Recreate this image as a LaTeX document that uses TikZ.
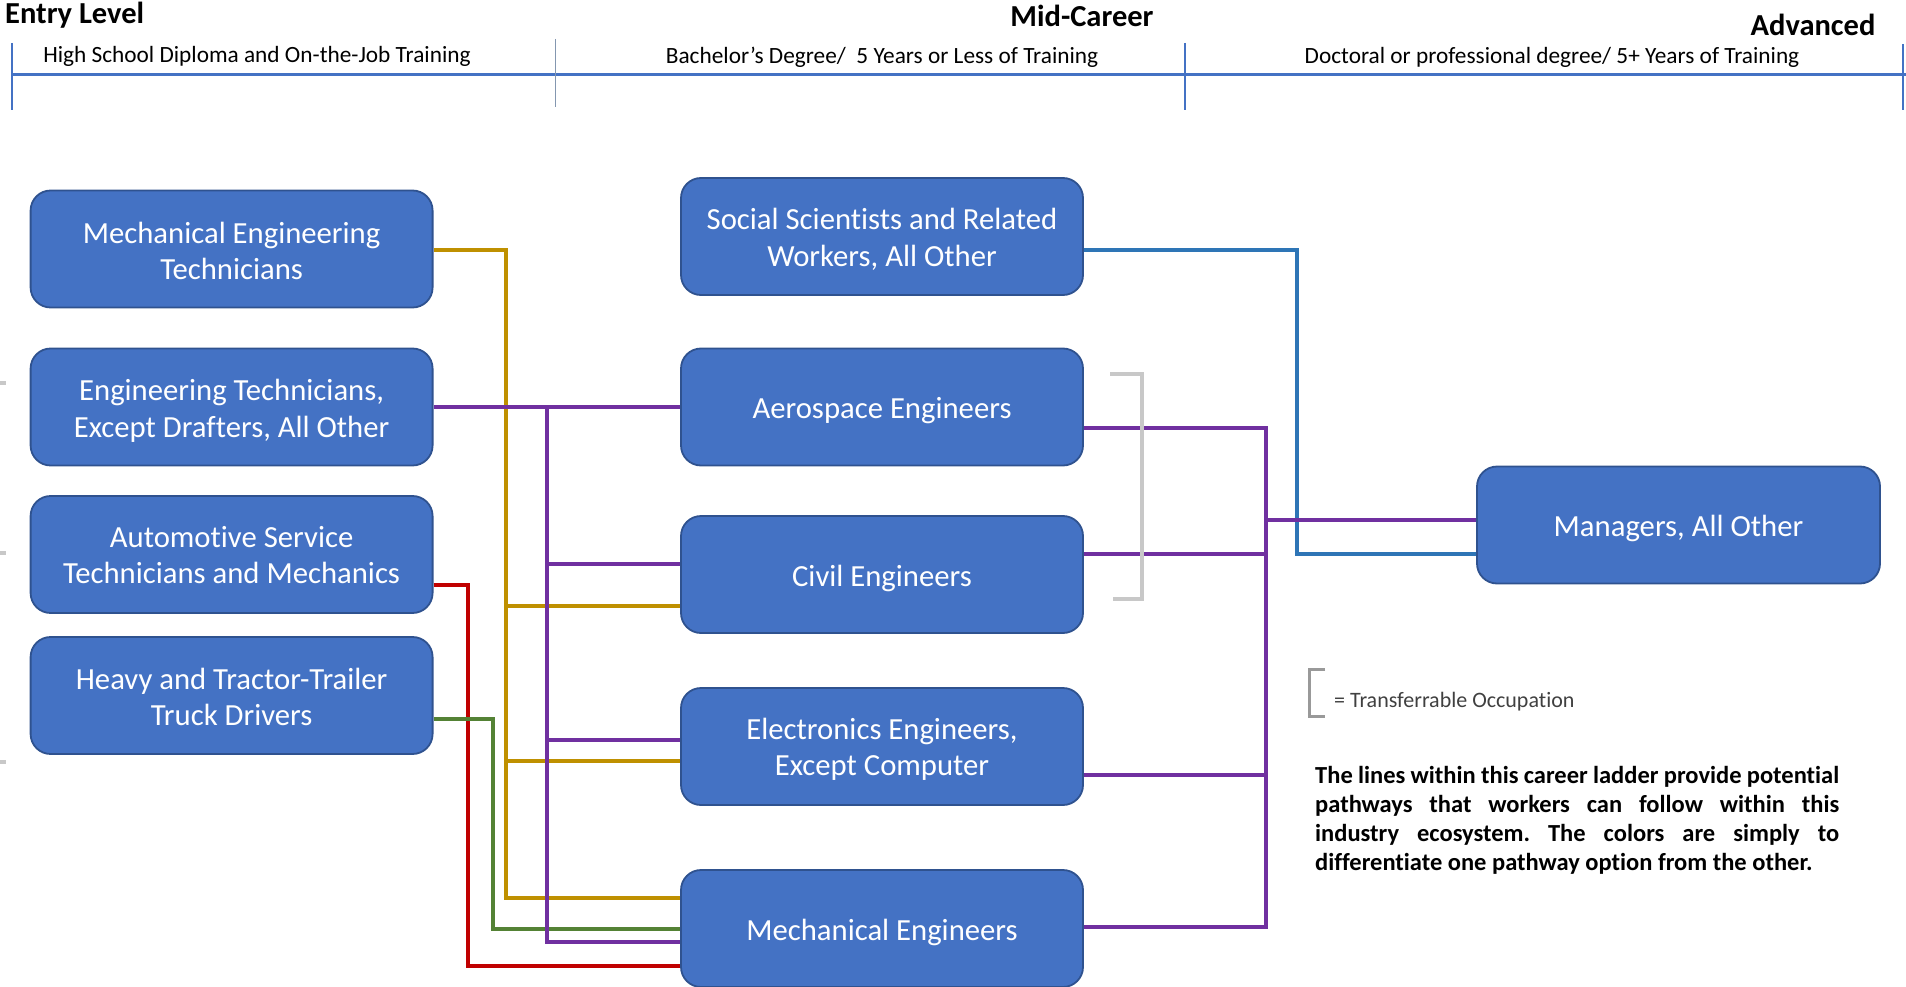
\documentclass[tikz,border=0pt]{standalone}
\usepackage{fontspec}
\setmainfont{Carlito}[Ligatures=NoCommon]
\usetikzlibrary{calc}
\definecolor{boxfill}{HTML}{4472C4}
\definecolor{boxline}{HTML}{2F528F}
\definecolor{cgold}{HTML}{BF9000}
\definecolor{cpurple}{HTML}{7030A0}
\definecolor{cred}{HTML}{C00000}
\definecolor{cgreen}{HTML}{548235}
\definecolor{cblue}{HTML}{2E75B6}
\definecolor{cgray}{HTML}{C8C8C8}
\definecolor{hdrline}{HTML}{4472C4}
\definecolor{sepline}{HTML}{8497B0}
\definecolor{legtext}{HTML}{404040}
\begin{document}
\begin{tikzpicture}[x=1pt,y=-1pt,
  job/.style={draw=boxline, line width=1.8pt, fill=boxfill, rounded corners=20pt,
    minimum width=402pt, minimum height=117pt, inner sep=0pt},
  jobtext/.style={text=white, font=\fontsize{30.7}{36.5}\selectfont, align=center, inner sep=0pt},
  link/.style={line width=4pt},
  hdr/.style={font=\fontsize{30.5}{36}\selectfont\bfseries, inner sep=0pt},
  subhdr/.style={font=\fontsize{23.3}{28}\selectfont, inner sep=0pt},
  vsep/.style={draw=hdrline, line width=1.6pt}
]
\useasboundingbox (0,0) rectangle (1906,987);

% header
\node[hdr, anchor=west] (hentry) at (5,15) {Entry Level};
\node[hdr] (hmid) at (1082,16) {Mid-Career};
\node[hdr] (hadv) at (1813,25) {Advanced};
\node[subhdr] (s1) at (257,56) {High School Diploma and On-the-Job Training};
\node[subhdr] (s2) at (882,57) {Bachelor’s Degree/\ \ 5 Years or Less of Training};
\node[subhdr] (s3) at (1552,57) {Doctoral or professional degree/ 5+ Years of Training};
\coordinate (hl) at (12,75);
\coordinate (hr) at (1906,75);
\draw[draw=hdrline, line width=3pt] (hl) -- (hr);
\coordinate (v1a) at (12,43);   \coordinate (v1b) at (12,110);
\coordinate (v2a) at (555.5,39);\coordinate (v2b) at (555.5,107);
\coordinate (v3a) at (1185,43); \coordinate (v3b) at (1185,110);
\coordinate (v4a) at (1903,44); \coordinate (v4b) at (1903,110);
\draw[vsep] (v1a) -- (v1b);
\draw[draw=sepline, line width=1.2pt] (v2a) -- (v2b);
\draw[vsep] (v3a) -- (v3b);
\draw[vsep] (v4a) -- (v4b);

% left-edge ticks
\foreach \i/\yy in {1/383,2/553,3/762}{
  \coordinate (tk\i a) at (0,\yy); \coordinate (tk\i b) at (6,\yy);
  \draw[cgray, line width=4.5pt] (tk\i a) -- (tk\i b);
}

% boxes
\node[job] (met) at (231.6,249) {};
\node[job] (et) at (231.6,407) {};
\node[job] (ast) at (231.6,554.5) {};
\node[job] (htt) at (231.6,695.5) {};
\node[job] (soc) at (882,236.5) {};
\node[job] (aero) at (882,407) {};
\node[job] (civil) at (882,574.5) {};
\node[job] (elec) at (882,746.5) {};
\node[job] (mech) at (882,928.5) {};
\node[job, minimum width=403pt] (mgr) at (1678.5,525) {};

% box texts
\node[jobtext] (metT) at ([yshift=-2pt]met.center) {Mechanical Engineering\\Technicians};
\node[jobtext] (etT) at ([yshift=-4pt]et.center) {Engineering Technicians,\\Except Drafters, All Other};
\node[jobtext] (astT) at ([yshift=-0.5pt]ast.center) {Automotive Service\\Technicians and Mechanics};
\node[jobtext] (httT) at ([yshift=-1.2pt]htt.center) {Heavy and Tractor-Trailer\\Truck Drivers};
\node[jobtext] (socT) at ([yshift=-3pt]soc.center) {Social Scientists and Related\\Workers, All Other};
\node[jobtext] (aeroT) at ([yshift=-3.6pt]aero.center) {Aerospace Engineers};
\node[jobtext] (civilT) at ([yshift=-3.6pt]civil.center) {Civil Engineers};
\node[jobtext] (elecT) at ([yshift=-3pt]elec.center) {Electronics Engineers,\\Except Computer};
\node[jobtext] (mechT) at ([yshift=-3.6pt]mech.center) {Mechanical Engineers};
\node[jobtext] (mgrT) at ([yshift=-3.6pt]mgr.center) {Managers, All Other};

% bus coordinates
\coordinate (gx) at (506,0);
\coordinate (px) at (547,0);
\coordinate (rx) at (468,0);
\coordinate (grx) at (493,0);
\coordinate (prx) at (1266,0);
\coordinate (bx) at (1297,0);

% attachment points
\coordinate (metE) at ([yshift=-1.4pt]met.east);
\coordinate (civG) at ([yshift=-31pt]civil.west);
\coordinate (elecG) at ([yshift=-14.5pt]elec.west);
\coordinate (mechG) at ([yshift=30.2pt]mech.west);
\coordinate (civP) at ([yshift=10.5pt]civil.west);
\coordinate (elecP) at ([yshift=6.5pt]elec.west);
\coordinate (mechP) at ([yshift=-13.5pt]mech.west);
\coordinate (astE) at ([yshift=-30.2pt]ast.east);
\coordinate (mechR) at ([yshift=-37.5pt]mech.west);
\coordinate (httE) at ([yshift=-23pt]htt.east);
\coordinate (mechGr) at (mech.west);
\coordinate (aeroE) at ([yshift=-21pt]aero.east);
\coordinate (civE) at ([yshift=20.5pt]civil.east);
\coordinate (elecE) at ([yshift=-28pt]elec.east);
\coordinate (mechE) at ([yshift=2pt]mech.east);
\coordinate (mgrP) at ([yshift=5pt]mgr.west);
\coordinate (socE) at ([yshift=-13.7pt]soc.east);
\coordinate (mgrB) at ([yshift=-29pt]mgr.west);

% red
\draw[link, cred] (astE) -| (rx |- mechR) -- (mechR);
% green
\draw[link, cgreen] (httE) -| (grx |- mechGr) -- (mechGr);
% gold
\draw[link, cgold] (metE) -| (gx |- mechG) -- (mechG);
\draw[link, cgold] (gx |- civG) -- (civG);
\draw[link, cgold] (gx |- elecG) -- (elecG);
% purple left
\draw[link, cpurple] (et.east) -- (aero.west);
\draw[link, cpurple] (px |- et.east) -- (px |- mechP) -- (mechP);
\draw[link, cpurple] (px |- civP) -- (civP);
\draw[link, cpurple] (px |- elecP) -- (elecP);
% blue
\draw[link, cblue] (socE) -| (bx |- mgrB) -- (mgrB);
% purple right
\draw[link, cpurple] (aeroE) -| (prx |- mechE) -- (mechE);
\draw[link, cpurple] (civE) -- (prx |- civE);
\draw[link, cpurple] (elecE) -- (prx |- elecE);
\draw[link, cpurple] (prx |- mgrP) -- (mgrP);

% transferable bracket
\coordinate (br1) at (1110,374.4);
\coordinate (br2) at (1141.5,374.4);
\coordinate (br3) at (1141.5,599.3);
\coordinate (br4) at (1112.5,599.3);
\draw[cgray, line width=4pt] (br1) -- (br2) -- (br3) -- (br4);

% legend
\coordinate (lg1) at (1325,669);
\coordinate (lg2) at (1309,669);
\coordinate (lg3) at (1309,716);
\coordinate (lg4) at (1325,716);
\draw[gray!80, line width=3pt] (lg1) -- (lg2) -- (lg3) -- (lg4);
\node[anchor=west, inner sep=0pt, text=legtext, font=\fontsize{22}{26}\selectfont] (legtxt) at (1334,702) {= Transferrable Occupation};

% note
\node[anchor=north west, inner sep=0pt, text width=524pt, align=justify,
  font={\fontsize{24.5}{29}\selectfont\bfseries\frenchspacing}] (note) at (1315,766.5)
  {\hyphenpenalty=10000 The lines within this career ladder provide potential\linebreak pathways that workers can follow within this\linebreak industry ecosystem. The colors are simply to\linebreak differentiate one pathway option from the other.};
\end{tikzpicture}
\end{document}
